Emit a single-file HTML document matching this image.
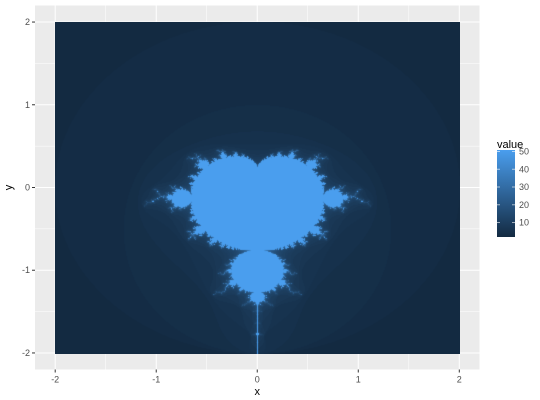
<!DOCTYPE html>
<html><head><meta charset="utf-8">
<style>
body{margin:0;background:#fff;font-family:"Liberation Sans",sans-serif;}
#wrap{position:relative;width:540px;height:400px;}
svg text{font-family:"Liberation Sans",sans-serif;}
</style></head>
<body>
<div id="wrap">
<svg id="svg" width="540" height="400" style="position:absolute;left:0;top:0"></svg>
<canvas id="cv" width="405" height="332" style="position:absolute;left:55px;top:22px;width:405px;height:332px"></canvas>
</div>
<script>
// data
const xTicks=[-2,-1,0,1,2];
const yTicks=[-2,-1,0,1,2];
const legendTicks=[10,20,30,40,50];
const xRange=[-2,2];
const yRange=[-2,2];
const maxIter=[50];
const valueRange=[1,50];

const NS="http://www.w3.org/2000/svg";
const svg=document.getElementById('svg');
const px0=35,px1=479.5,py0=5.5,py1=369.5;
function sx(v){return px0+(v+2.2)/4.4*(px1-px0);}
function sy(v){return py1-(v+2.2)/4.4*(py1-py0);}
function el(t,a,p){const e=document.createElementNS(NS,t);for(const k in a)e.setAttribute(k,a[k]);(p||svg).appendChild(e);return e;}
const bg=el('rect',{x:px0,y:py0,width:px1-px0,height:py1-py0,fill:'#EBEBEB'});


for(let i=0;i<xTicks.length-1;i++){const m=(xTicks[i]+xTicks[i+1])/2;
 const g=el('line',{x1:sx(m),x2:sx(m),y1:py0,y2:py1,stroke:'#fff','stroke-width':0.5});
 
 
 const h=el('line',{y1:sy(m),y2:sy(m),x1:px0,x2:px1,stroke:'#fff','stroke-width':0.5});
 
 }
xTicks.forEach(v=>{const g=el('line',{x1:sx(v),x2:sx(v),y1:py0,y2:py1,stroke:'#fff','stroke-width':1});
 
 
 const t=el('line',{x1:sx(v),x2:sx(v),y1:py1,y2:py1+3,stroke:'#333'});
 
 
 const l=el('text',{x:sx(v),y:py1+13,'font-size':9,fill:'#4D4D4D','text-anchor':'middle'});l.textContent=v;
 
 });
yTicks.forEach(v=>{const g=el('line',{y1:sy(v),y2:sy(v),x1:px0,x2:px1,stroke:'#fff','stroke-width':1});
 
 
 const t=el('line',{y1:sy(v),y2:sy(v),x1:px0-3,x2:px0,stroke:'#333'});
 
 
 const l=el('text',{x:px0-5,y:sy(v)+3,'font-size':9,fill:'#4D4D4D','text-anchor':'end'});l.textContent=v;
 
 });
const xt=el('text',{x:(px0+px1)/2,y:395,'font-size':11,'text-anchor':'middle'});xt.textContent='x';


const yt=el('text',{x:12,y:(py0+py1)/2,'font-size':11,'text-anchor':'middle',transform:`rotate(-90 12 ${(py0+py1)/2})`});yt.textContent='y';



const lo=[0x13,0x2A,0x41],hi=[0x4A,0x9E,0xEE];
function col(v){const t=Math.max(0,Math.min(1,(v-valueRange[0])/(valueRange[1]-valueRange[0])));return lo.map((a,i)=>Math.round(a+(hi[i]-a)*t));}

// legend
const lt=el('text',{x:497,y:148,'font-size':11});lt.textContent='value';


const defs=el('defs',{});const lg=el('linearGradient',{id:'lg',x1:0,y1:1,x2:0,y2:0},defs);
el('stop',{offset:0,'stop-color':`rgb(${col(1)})`},lg);el('stop',{offset:1,'stop-color':`rgb(${col(50)})`},lg);
const lb0=150,lb1=237;
function ly(v){return lb1-(v-valueRange[0])/(valueRange[1]-valueRange[0])*(lb1-lb0)+1.5;}
const bar=el('rect',{x:497,y:lb0,width:18,height:lb1-lb0,fill:'url(#lg)'});


legendTicks.forEach(v=>{
 const a=el('line',{x1:497,x2:500,y1:ly(v),y2:ly(v),stroke:'#fff','stroke-opacity':0.6});
 
 
 const b=el('line',{x1:512,x2:515,y1:ly(v),y2:ly(v),stroke:'#fff','stroke-opacity':0.6});
 
 
 const l=el('text',{x:519,y:ly(v)+3,'font-size':9,fill:'#4D4D4D'});l.textContent=v;
 
 });

// raster
const cv=document.getElementById('cv'),ctx=cv.getContext('2d');
const W=cv.width,H=cv.height,img=ctx.createImageData(W,H);
for(let j=0;j<H;j++){const yv=yRange[1]-(j+0.5)/H*(yRange[1]-yRange[0]);
 for(let i=0;i<W;i++){const xv=xRange[0]+(i+0.5)/W*(xRange[1]-xRange[0]);
  const cr=yv,ci=xv;let zr=0,zi=0,n=0;
  while(n<maxIter[0]&&zr*zr+zi*zi<=4){const t=zr*zr-zi*zi+cr;zi=2*zr*zi+ci;zr=t;n++;}
  const c=col(n),k=(j*W+i)*4;img.data[k]=c[0];img.data[k+1]=c[1];img.data[k+2]=c[2];img.data[k+3]=255;}}
ctx.putImageData(img,0,0);
</script>
</body></html>
